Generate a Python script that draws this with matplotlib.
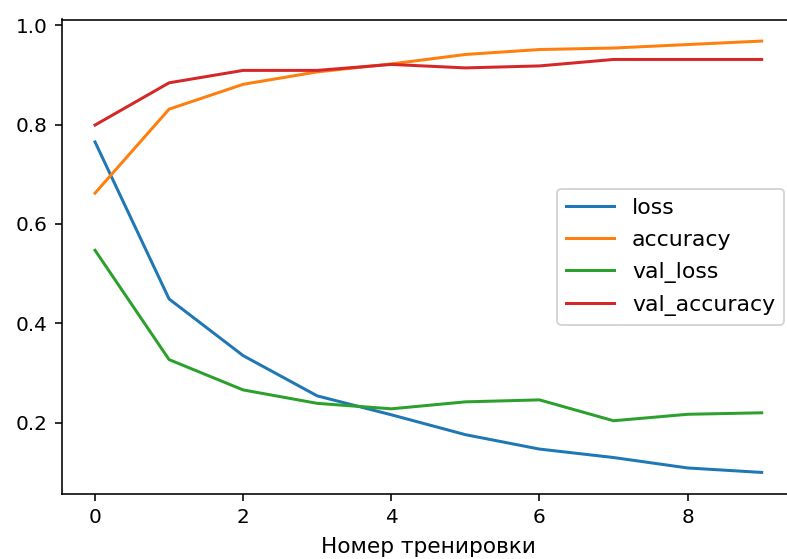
import matplotlib
matplotlib.use("Agg")
import matplotlib.pyplot as plt

# training history
epochs = list(range(10))
loss = [0.765, 0.449, 0.335, 0.254, 0.216, 0.176, 0.147, 0.130, 0.109, 0.100]
accuracy = [0.662, 0.831, 0.881, 0.906, 0.922, 0.941, 0.951, 0.954, 0.961, 0.968]
val_loss = [0.547, 0.327, 0.266, 0.239, 0.228, 0.242, 0.246, 0.204, 0.217, 0.220]
val_accuracy = [0.799, 0.884, 0.909, 0.909, 0.921, 0.914, 0.918, 0.931, 0.931, 0.931]

dpi = 144
fig = plt.figure(figsize=(787 / dpi, 559 / dpi), dpi=dpi)
# the screenshot cuts the axes off at the right edge
ax = fig.add_axes([61.7 / 787, 65 / 559, (795 - 61.7) / 787, 474.5 / 559])

ax.plot(epochs, loss, label='loss')
ax.plot(epochs, accuracy, label='accuracy')
ax.plot(epochs, val_loss, label='val_loss')
ax.plot(epochs, val_accuracy, label='val_accuracy')

ax.set_xlabel('Номер тренировки', fontsize=10.8, labelpad=5)
ax.legend(loc='center right', fontsize=11, handlelength=2.2, labelspacing=0.55)

fig.savefig('out.png', dpi=dpi)
